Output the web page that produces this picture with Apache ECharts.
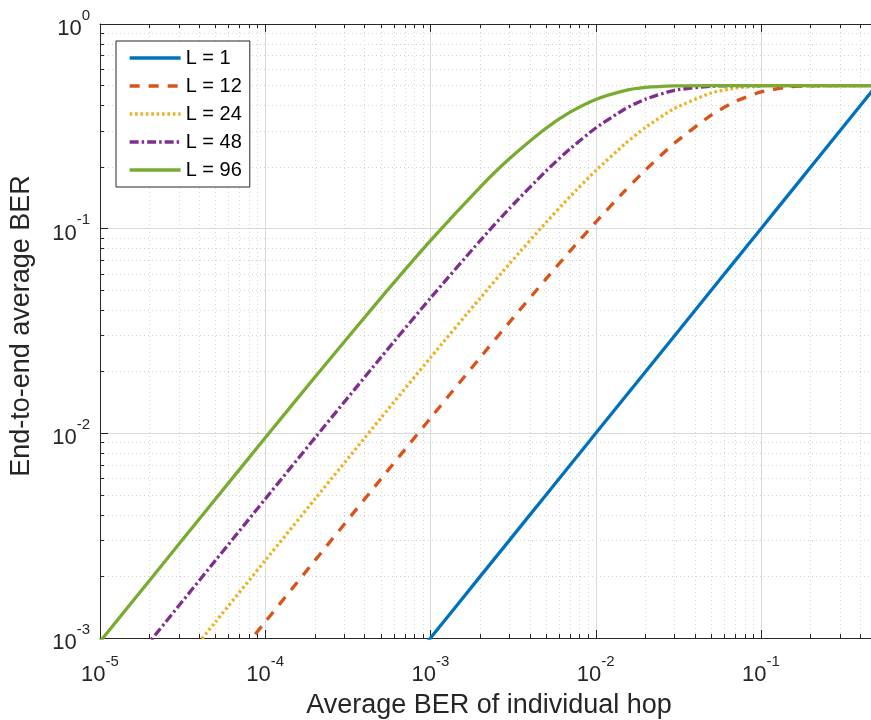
<!DOCTYPE html>
<html><head><meta charset="utf-8">
<script src="https://cdn.jsdelivr.net/npm/echarts@6/dist/echarts.min.js"></script>
<style>html,body{margin:0;padding:0;background:#fff}#c{width:871px;height:720px}</style>
</head><body><div id="c"></div>
<script>
const seriesNames = ['L = 1', 'L = 12', 'L = 24', 'L = 48', 'L = 96'];
const xValues = [1e-5, 2e-5, 5e-5, 1e-4, 2e-4, 5e-4, 1e-3, 2e-3, 3e-3, 5e-3, 7e-3, 1e-2, 1.5e-2, 2e-2, 3e-2, 5e-2, 7e-2, 0.1, 0.15, 0.2, 0.3, 0.5];
const yL1  = [1e-5, 2e-5, 5e-5, 1e-4, 2e-4, 5e-4, 1e-3, 2e-3, 3e-3, 5e-3, 7e-3, 1e-2, 1.5e-2, 2e-2, 3e-2, 5e-2, 7e-2, 0.1, 0.15, 0.2, 0.3, 0.5];
const yL12 = [1.2e-4, 2.4e-4, 6.0e-4, 1.199e-3, 2.395e-3, 5.97e-3, 0.01187, 0.02348, 0.03484, 0.0568, 0.0778, 0.1076, 0.1531, 0.1936, 0.2620, 0.3588, 0.4182, 0.4656, 0.4931, 0.4989, 0.49999, 0.5];
const yL24 = [2.4e-4, 4.8e-4, 1.199e-3, 2.394e-3, 4.778e-3, 0.011863, 0.023456, 0.04585, 0.06724, 0.10717, 0.14354, 0.1921, 0.2593, 0.3123, 0.3868, 0.4601, 0.4866, 0.4976, 0.4999, 0.5, 0.5, 0.5];
const yL48 = [4.798e-4, 9.591e-4, 2.394e-3, 4.778e-3, 9.511e-3, 0.023444, 0.04581, 0.0875, 0.12543, 0.19136, 0.24586, 0.3104, 0.3841, 0.4295, 0.4743, 0.4968, 0.4996, 0.5, 0.5, 0.5, 0.5, 0.5];
const yL96 = [9.591e-4, 1.9164e-3, 4.777e-3, 9.51e-3, 0.01884, 0.04579, 0.08742, 0.1597, 0.2194, 0.3095, 0.3708, 0.4281, 0.4731, 0.4901, 0.4987, 0.5, 0.5, 0.5, 0.5, 0.5, 0.5, 0.5];
const xTitle = 'Average BER of individual hop';
const yTitle = 'End-to-end average BER';

const seriesY = [yL1, yL12, yL24, yL48, yL96];
const colors = ['#0072BD', '#D95319', '#EDB120', '#7E2F8E', '#77AC30'];
const dashes = ['solid', [10, 9], [2.6, 2.8], [9, 3, 2.5, 3], 'solid'];
const FONT = '"Liberation Sans", Arial, Helvetica, sans-serif';
const AX = '#262626';

function expLabel(v) {
  const e = Math.round(Math.log10(v));
  if (Math.abs(Math.log10(v) - e) > 1e-6) return '';
  return '{b|10}{s|' + e + '}';
}
const rich = {
  b: { fontSize: 22, lineHeight: 32, color: AX, fontFamily: FONT, verticalAlign: 'bottom' },
  s: { fontSize: 15, lineHeight: 15, color: AX, fontFamily: FONT, verticalAlign: 'top' }
};

const chart = echarts.init(document.getElementById('c'), null, { renderer: 'canvas' });
const xMin = 1e-5, xMax = 1, yMin = 1e-3, yMax = 1;

const baseX = {
  type: 'log', logBase: 10, min: xMin, max: xMax, gridIndex: 0,
  axisLine: { show: true, lineStyle: { color: AX, width: 1 } },
  axisTick: { show: true, inside: true, length: 8, lineStyle: { color: AX, width: 1 } },
  minorTick: { show: true, splitNumber: 9, length: 4, lineStyle: { color: AX, width: 1 } }
};

chart.setOption({
  animation: false,
  backgroundColor: '#fff',
  color: colors,
  grid: { left: 100, top: 24, right: -55.25, bottom: 82, containLabel: false, outerBoundsMode: 'none' },
  xAxis: [
    Object.assign({}, baseX, {
      position: 'bottom',
      splitLine: { show: true, lineStyle: { color: '#dadada', width: 1 } },
      minorSplitLine: { show: true, lineStyle: { color: '#d4d4d4', width: 1, type: [1, 3] } },
      axisLabel: { formatter: expLabel, rich: rich, margin: 16, align: 'center' }
    }),
    Object.assign({}, baseX, {
      position: 'top',
      splitLine: { show: false }, minorSplitLine: { show: false },
      axisLabel: { show: false }
    })
  ],
  yAxis: [{
    type: 'log', logBase: 10, min: yMin, max: yMax,
    axisLine: { show: true, lineStyle: { color: AX, width: 1 } },
    axisTick: { show: true, inside: true, length: 8, lineStyle: { color: AX, width: 1 } },
    minorTick: { show: true, splitNumber: 9, length: 4, lineStyle: { color: AX, width: 1 } },
    splitLine: { show: true, lineStyle: { color: '#dadada', width: 1 } },
    minorSplitLine: { show: true, lineStyle: { color: '#d4d4d4', width: 1, type: [1, 3] } },
    axisLabel: { formatter: expLabel, rich: rich, margin: 10 }
  }],
  legend: {
    orient: 'vertical', left: 116, top: 41,
    itemWidth: 51, itemHeight: 14, itemGap: 8,
    padding: [7, 8, 7, 12],
    borderColor: AX, borderWidth: 1, backgroundColor: '#fff',
    itemStyle: { opacity: 0 },
    lineStyle: { width: 3.3 },
    textStyle: { fontSize: 20, color: '#000', fontFamily: FONT },
    data: seriesNames
  },
  graphic: [
    { type: 'text', x: 489, y: 706, style: { text: xTitle, font: '27px ' + FONT, fill: AX, textAlign: 'center', textVerticalAlign: 'middle' } },
    { type: 'text', x: 22, y: 326, rotation: Math.PI / 2, style: { text: yTitle, font: '27px ' + FONT, fill: AX, textAlign: 'center', textVerticalAlign: 'middle' } }
  ],
  series: seriesNames.map((name, i) => ({
    name: name, type: 'line', xAxisIndex: 0, yAxisIndex: 0,
    data: xValues.map((x, j) => [x, seriesY[i][j]]),
    showSymbol: false, symbol: 'none', smooth: 0.2, clip: true,
    lineStyle: { color: colors[i], width: 3.3, type: dashes[i], cap: 'butt' },
    itemStyle: { color: colors[i] }
  }))
});
</script>
</body></html>
